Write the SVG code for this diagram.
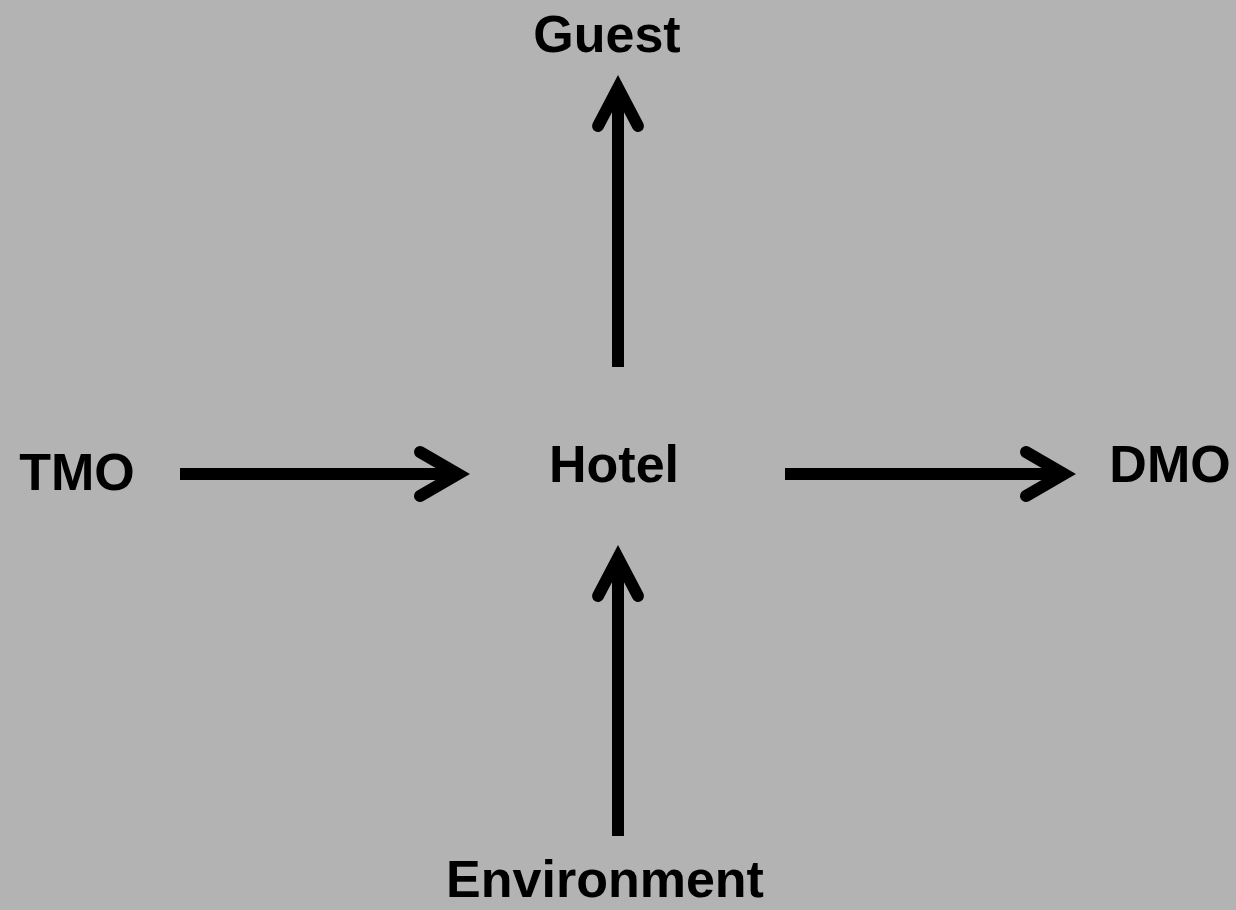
<svg xmlns="http://www.w3.org/2000/svg" width="1236" height="910" viewBox="0 0 1236 910">
<style>
.lbl{font-family:"Liberation Sans",Arial,sans-serif;font-weight:bold;font-size:52px;fill:#000;text-anchor:middle}
.ln{stroke:#000;stroke-width:12;fill:none}
.hd{stroke:#000;stroke-width:12;fill:none;stroke-linecap:round;stroke-linejoin:miter}
</style>
<rect width="1236" height="910" fill="#b3b3b3"/>
<g id="connectors">
<line class="ln" x1="618" y1="367" x2="618" y2="86"/>
<polyline class="hd" points="598,126 618,88 638,126"/>
<line class="ln" x1="618" y1="836" x2="618" y2="556"/>
<polyline class="hd" points="598,596 618,558 638,596"/>
<line class="ln" x1="180" y1="474" x2="460" y2="474"/>
<polyline class="hd" points="420,452 458,474 420,496"/>
<line class="ln" x1="785" y1="474" x2="1064" y2="474"/>
<polyline class="hd" points="1026,452 1064,474 1026,496"/>
</g>
<g id="node-guest"><text class="lbl" x="607" y="52">Guest</text></g>
<g id="node-hotel"><text class="lbl" x="614" y="482">Hotel</text></g>
<g id="node-tmo"><text class="lbl" x="77" y="490">TMO</text></g>
<g id="node-dmo"><text class="lbl" x="1170" y="482">DMO</text></g>
<g id="node-environment"><text class="lbl" x="605" y="897">Environment</text></g>
</svg>
